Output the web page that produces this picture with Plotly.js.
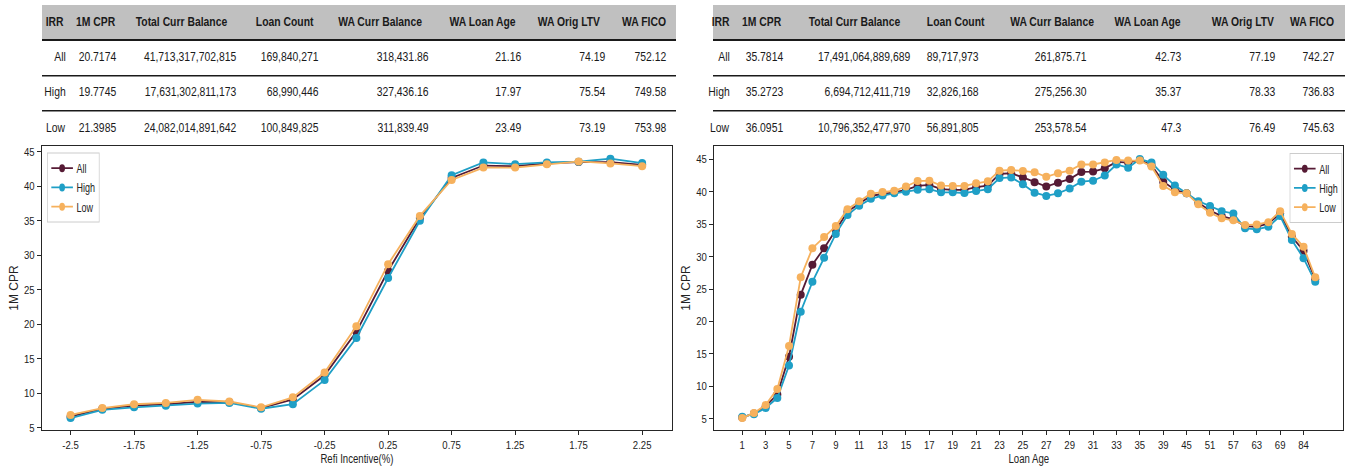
<!DOCTYPE html>
<html>
<head>
<meta charset="utf-8">
<script src="https://cdn.plot.ly/plotly-3.0.1.min.js"></script>
<style>
html,body{margin:0;padding:0;background:#fff;}
#chart{width:1345px;height:468px;}
</style>
</head>
<body>
<div id="chart"></div>
<script>
// ---------- DATA ----------
const seriesNames = ["All", "High", "Low"];

// Left chart: Refi Incentive(%)
const refiCats = ["-2.5","-2","-1.75","-1.5","-1.25","-1","-0.75","-0.5","-0.25","0","0.25","0.5","0.75","1","1.25","1.5","1.75","2","2.25"];
const refiTicks = ["-2.5","-1.75","-1.25","-0.75","-0.25","0.25","0.75","1.25","1.75","2.25"];
const refiAll  = [6.6, 7.75, 8.2, 8.4, 8.75, 8.7, 7.85, 9.1, 12.6, 18.9, 27.75, 35.4, 41.2, 43.0, 42.9, 43.3, 43.5, 43.5, 43.1];
const refiHigh = [6.4, 7.6, 7.95, 8.2, 8.5, 8.6, 7.75, 8.4, 11.9, 18.0, 26.7, 35.0, 41.6, 43.45, 43.2, 43.45, 43.55, 44.0, 43.35];
const refiLow  = [6.85, 7.85, 8.4, 8.6, 9.05, 8.8, 7.95, 9.4, 13.0, 19.7, 28.7, 35.7, 40.9, 42.7, 42.7, 43.2, 43.6, 43.3, 42.9];

// Right chart: Loan Age
const ageCats = ["1","2","3","4","5","6","7","8","9","10","11","12","13","14","15","16","17","18","19","20",
  "21","22","23","24","25","26","27","28","29","30","31","32","33","34","35","37","39","42","45","48",
  "51","54","57","60","63","66","69","72","84","96"];
const ageTicks = ["1","3","5","7","9","11","13","15","17","19","21","23","25","27","29","31","33","35","39","45","51","57","63","69","84"];
const ageAll  = [5.2,5.8,6.9,8.75,14.55,24.1,28.75,31.3,34.1,36.9, 38.2,39.35,39.65,39.9,40.3,40.9,41.05,40.4,40.3,40.3,
  40.7,40.95,42.75,42.85,42.2,41.45,40.8,41.4,41.95,43.05, 43.1,43.6,44.6,44.5,44.9,44.1,41.55,40.3,39.75,38.3,
  37.1,36.25,35.75,34.7,34.6,35.1,36.65,33.05,30.9,26.5];
const ageHigh = [5.3,5.7,6.65,8.2,13.2,21.5,26.1,29.8,33.5,36.4, 37.85,38.9,39.4,39.75,40.0,40.3,40.4,39.9,39.9,39.8,
  40.1,40.4,42.1,42.2,41.15,39.85,39.35,39.75,40.5,41.55, 41.7,42.5,44.2,43.7,45.05,44.5,42.6,40.95,39.75,38.55,
  37.8,37.0,36.65,34.35,34.2,34.6,36.25,32.55,29.75,26.1];
const ageLow  = [5.1,5.9,7.1,9.6,16.2,26.8,31.3,33.0,34.7,37.3, 38.55,39.7,39.95,40.15,40.8,41.65,41.7,40.95,40.9,40.9,
  41.3,41.6,43.25,43.35,43.2,43.0,42.3,42.85,43.25,44.2, 44.2,44.5,44.9,44.8,44.8,43.9,40.9,39.9,39.75,38.05,
  36.75,35.9,35.6,34.85,34.95,35.3,37.0,33.5,31.5,26.8];

// Tables
const tableHeaders = ["IRR","1M CPR","Total Curr Balance","Loan Count","WA Curr Balance","WA Loan Age","WA Orig LTV","WA FICO"];
const leftRowAll  = ["All","20.7174","41,713,317,702,815","169,840,271","318,431.86","21.16","74.19","752.12"];
const leftRowHigh = ["High","19.7745","17,631,302,811,173","68,990,446","327,436.16","17.97","75.54","749.58"];
const leftRowLow  = ["Low","21.3985","24,082,014,891,642","100,849,825","311,839.49","23.49","73.19","753.98"];
const rightRowAll  = ["All","35.7814","17,491,064,889,689","89,717,973","261,875.71","42.73","77.19","742.27"];
const rightRowHigh = ["High","35.2723","6,694,712,411,719","32,826,168","275,256.30","35.37","78.33","736.83"];
const rightRowLow  = ["Low","36.0951","10,796,352,477,970","56,891,805","253,578.54","47.3","76.49","745.63"];

// ---------- LAYOUT HELPERS ----------
const W = 1345, H = 468;
const px = x => x / W;
const py = y => 1 - y / H;
const FONT = "'Liberation Sans', Arial, sans-serif";
const colors = {All: "#561b35", High: "#1f9fc6", Low: "#f6b15d"};

function traces(cats, ys, xa, ya, legend) {
  return seriesNames.map((n, i) => ({
    type: "scatter", mode: "lines+markers", name: n,
    x: cats, y: ys[i], xaxis: xa, yaxis: ya, legend: legend,
    line: {color: colors[n], width: 1.8},
    marker: {color: colors[n], size: 8},
    hoverinfo: "x+y+name"
  }));
}

const data = [
  ...traces(refiCats, [refiAll, refiHigh, refiLow], "x", "y", "legend"),
  ...traces(ageCats, [ageAll, ageHigh, ageLow], "x2", "y2", "legend2")
];

const axisCommon = {
  showgrid: false, zeroline: false, showline: true, mirror: true,
  linecolor: "#262626", linewidth: 1.3, ticks: "outside", ticklen: 4,
  tickcolor: "#262626", tickwidth: 1, automargin: false,
  tickfont: {family: FONT, size: 11.5, color: "#222"}
};

// Table shapes & annotations
const shapes = [];
const annotations = [];
function buildTable(x0, x1, hdrRight, dataRight, rows) {
  shapes.push({type: "rect", xref: "paper", yref: "paper", x0: px(x0), x1: px(x1), y0: py(40), y1: py(5),
    fillcolor: "#c0c0c0", line: {width: 0}, layer: "below"});
  [[40, 2], [75.7, 1.6], [110.7, 1.6]].forEach(([y, w]) => shapes.push({
    type: "line", xref: "paper", yref: "paper", x0: px(x0), x1: px(x1), y0: py(y), y1: py(y),
    line: {color: "#1a1a1a", width: w}
  }));
  tableHeaders.forEach((t, i) => annotations.push({
    xref: "paper", yref: "paper", x: px(hdrRight[i]), y: py(22), xanchor: "right", yanchor: "middle", align: "right",
    text: "<b>" + t + "</b>", showarrow: false, borderpad: 0, font: {family: FONT, size: 12.5, color: "#1a1a1a"}
  }));
  const rowY = [57.3, 92.3, 128];
  rows.forEach((r, ri) => r.forEach((t, i) => annotations.push({
    xref: "paper", yref: "paper", x: px(dataRight[i]), y: py(rowY[ri]), xanchor: "right", yanchor: "middle", align: "right",
    text: t, showarrow: false, borderpad: 0, font: {family: FONT, size: 12.5, color: "#1a1a1a"}
  })));
}
buildTable(42, 676, [65, 116, 228, 315, 423, 517, 602, 667], [67, 117, 237, 320, 430, 522, 606, 667],
  [leftRowAll, leftRowHigh, leftRowLow]);
buildTable(713, 1345, [731, 782, 901, 986, 1095, 1182, 1276, 1335], [731, 784, 911, 980, 1088, 1182, 1276, 1335],
  [rightRowAll, rightRowHigh, rightRowLow]);

const legendCommon = {
  bgcolor: "rgba(255,255,255,0.9)", bordercolor: "#cccccc", borderwidth: 1,
  font: {family: FONT, size: 12.5, color: "#222"}, itemwidth: 30, tracegroupgap: 0
};

const layout = {
  width: W, height: H,
  margin: {l: 0, r: 0, t: 0, b: 0},
  paper_bgcolor: "#fff", plot_bgcolor: "#fff",
  showlegend: true,
  xaxis: Object.assign({}, axisCommon, {
    type: "category", domain: [px(42), px(672)], range: [-0.9, 18.94],
    tickmode: "array", tickvals: refiTicks, ticktext: refiTicks, anchor: "y",
    title: {text: "Refi Incentive(%)", font: {family: FONT, size: 12, color: "#222"}, standoff: 4}
  }),
  yaxis: Object.assign({}, axisCommon, {
    domain: [py(430), py(146)], range: [4.67, 45.83], dtick: 5, tick0: 5, anchor: "x",
    title: {text: "1M CPR", font: {family: FONT, size: 12, color: "#222"}, standoff: 0}
  }),
  xaxis2: Object.assign({}, axisCommon, {
    type: "category", domain: [px(714.3), px(1343.3)], range: [-2.39, 51.4],
    tickmode: "array", tickvals: ageTicks, ticktext: ageTicks, anchor: "y2",
    title: {text: "Loan Age", font: {family: FONT, size: 12, color: "#222"}, standoff: 4}
  }),
  yaxis2: Object.assign({}, axisCommon, {
    domain: [py(430), py(146)], range: [3.26, 47.05], dtick: 5, tick0: 5, anchor: "x2",
    title: {text: "1M CPR", font: {family: FONT, size: 12, color: "#222"}, standoff: 0}
  }),
  legend: Object.assign({}, legendCommon, {x: px(47), y: py(152.5), xref: "paper", yref: "paper", xanchor: "left", yanchor: "top"}),
  legend2: Object.assign({}, legendCommon, {x: px(1342.5), y: py(153), xref: "paper", yref: "paper", xanchor: "right", yanchor: "top"}),
  shapes: shapes,
  annotations: annotations
};

// The reference figure is horizontally condensed: squeeze horizontal text glyphs (text stays real text).
function squeeze(selector, f) {
  document.querySelectorAll(selector).forEach(t => {
    const L = t.getComputedTextLength();
    if (L > 0) {
      t.setAttribute("textLength", (L * f).toFixed(2));
      t.setAttribute("lengthAdjust", "spacingAndGlyphs");
    }
  });
}

// Condense a whole legend box horizontally, keeping its anchored edge in place.
function condenseLegend(cls, sx, anchorRight) {
  try {
    const g = document.querySelector(".infolayer g." + cls);
    if (!g) return;
    const c = g.transform.baseVal.consolidate();
    const e = c ? c.matrix.e : 0, f = c ? c.matrix.f : 0;
    const bg = g.querySelector("rect.bg");
    const w = bg ? bg.getBBox().width : 0;
    if (!(w > 0 && w < 300)) return;
    const nx = anchorRight ? e + w * (1 - sx) : e;
    g.setAttribute("transform", "translate(" + nx + "," + f + ") scale(" + sx + ",1)");
  } catch (err) { /* leave legend as drawn */ }
}

Plotly.newPlot("chart", data, layout, {displayModeBar: false, responsive: false}).then(() => {
  squeeze(".annotation-text", 0.83);
  squeeze(".xtick text, .x2tick text, .ytick text, .y2tick text", 0.83);
  squeeze(".xtitle, .x2title", 0.8);
  condenseLegend("legend", 0.72, false);
  condenseLegend("legend2", 0.72, true);
});
</script>
</body>
</html>
